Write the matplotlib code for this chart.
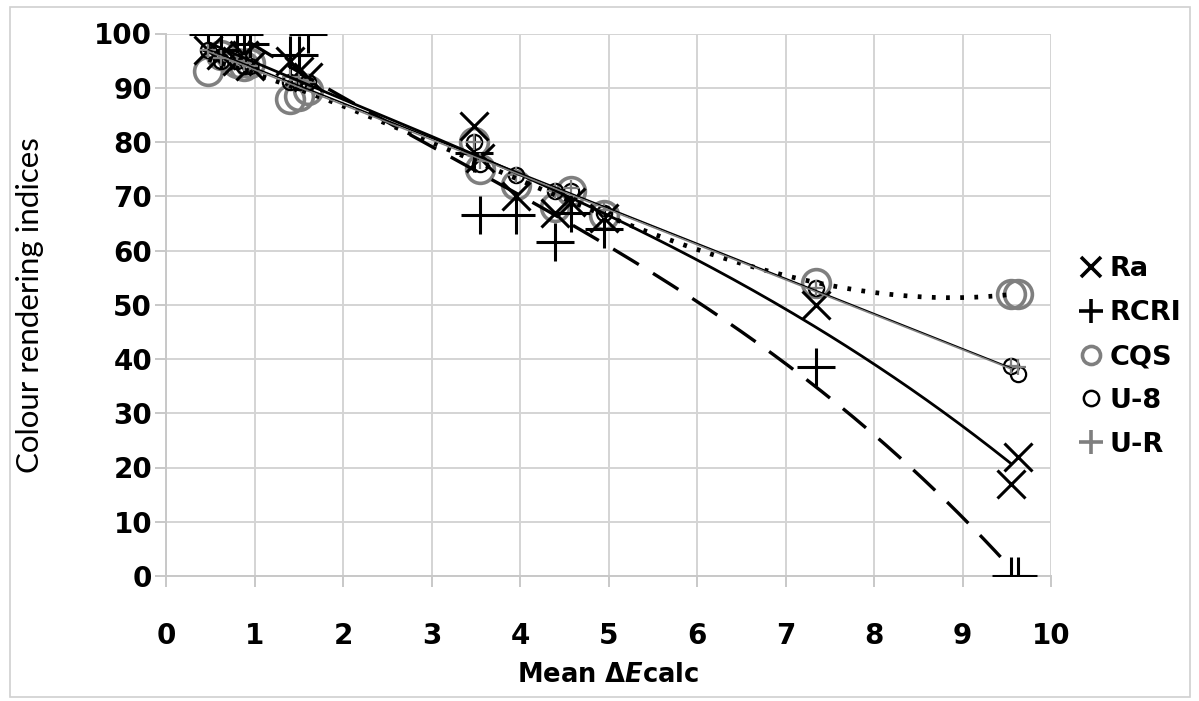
import numpy as np
import matplotlib.pyplot as plt
from matplotlib.lines import Line2D
from matplotlib.patches import Rectangle

plt.rcParams['font.family'] = ['DejaVu Sans']
plt.rcParams['mathtext.fontset'] = 'custom'
plt.rcParams['mathtext.it'] = 'DejaVu Sans:italic:bold'
plt.rcParams['mathtext.rm'] = 'DejaVu Sans:bold'

# mean colour difference of each light source
delta_e = [0.48, 0.62, 0.80, 0.88, 0.95, 1.40, 1.50, 1.60,
           3.48, 3.55, 3.95, 4.40, 4.58, 4.95, 7.35, 9.55, 9.63]

ra   = [97, 96, 95, 96, 94, 95, 93, 92, 83, 77, 70, 67, 69, 66, 50, 17, 22]
rcri = [100, 97, 100, 100, 98, 96, 96, 100, 78, 66.5, 66.5, 61.5, 67, 64, 38.5, 0, 0]
cqs  = [93, 96, 94.5, 94, 94.5, 88, 88.5, 89.5, 80, 75, 72, 68, 71, 66.5, 54, 52, 52]
u8   = [97, 95, 95, 94, 94, 91, 91, 91, 80, 76, 74, 71, 71, 67, 53, 38.8, 37.3]
ur   = [97, 95.5, 95, 94.5, 94, 92, 91.5, 91, 80, 76.5, 74, 71, 71.5, 67.5, 53, 38.8, 38.5]

x_ticks = list(range(0, 11))
y_ticks = list(range(0, 101, 10))

fig = plt.figure(figsize=(11.99, 7.01), dpi=100)
ax = fig.add_axes([166 / 1199, 1 - 576 / 701, (1051 - 166) / 1199, (576 - 33.5) / 701])

grey = '#7f7f7f'

# scatter points
ax.plot(delta_e, cqs, 'o', ms=20, mfc='none', mec=grey, mew=2.6, zorder=3)
ax.plot(delta_e, ra, 'x', ms=20, color='black', mew=2.2, zorder=4)
ax.plot(delta_e, rcri, '+', ms=27, color='black', mew=2.2, zorder=4)
ax.plot(delta_e, u8, 'o', ms=11, mfc='none', mec='black', mew=1.6, zorder=5)
ax.plot(delta_e, ur, '+', ms=11, color=grey, mew=1.6, zorder=5)

# trend lines
xs = np.linspace(min(delta_e), max(delta_e) - 0.08, 200)
ax.plot(xs, np.polyval(np.polyfit(delta_e, ra, 3), xs), color='black', lw=2, zorder=6)
ax.plot(xs, np.polyval(np.polyfit(delta_e, rcri, 3), xs), color='black', lw=2.4,
        ls=(0, (9, 5)), zorder=6)
ax.plot(xs, np.polyval(np.polyfit(delta_e, cqs, 3), xs), color='black', lw=3.4,
        ls=(0, (0.8, 2.2)), zorder=6)
ax.plot(xs, np.polyval(np.polyfit(delta_e, u8, 1), xs), color='black', lw=1.1, zorder=6)
ax.plot(xs, np.polyval(np.polyfit(delta_e, ur, 1), xs) - 0.6, color=grey, lw=1.1, zorder=6)

ax.set_xlim(0, 10)
ax.set_ylim(0, 100)
ax.set_xticks(x_ticks)
ax.set_yticks(y_ticks)
ax.grid(True, color='#d4d4d4', lw=1.4)
ax.set_axisbelow(True)
for side in ['top', 'right']:
    ax.spines[side].set_visible(False)
for side in ['left', 'bottom']:
    ax.spines[side].set_color('#c8c8c8')
    ax.spines[side].set_linewidth(1.4)
ax.tick_params(length=8, width=1.4, color='#c8c8c8', labelsize=20)
ax.tick_params(axis='x', pad=25)
ax.tick_params(axis='y', pad=2)
for lab in ax.get_xticklabels() + ax.get_yticklabels():
    lab.set_fontweight('bold')

ax.set_ylabel('Colour rendering indices', fontsize=22.5, family='Lato', va='center')
ax.yaxis.set_label_coords(-0.154, 0.5)
ax.set_xlabel(r'Mean Δ$\mathit{E}$calc', fontsize=18.5, fontweight='bold', va='center')
ax.xaxis.set_label_coords(0.5, -0.182)

handles = [
    Line2D([], [], ls='none', marker='x', ms=14, color='black', mew=2.6),
    Line2D([], [], ls='none', marker='+', ms=17, color='black', mew=2.6),
    Line2D([], [], ls='none', marker='o', ms=13, mfc='none', mec=grey, mew=2.6),
    Line2D([], [], ls='none', marker='o', ms=11, mfc='none', mec='black', mew=1.8),
    Line2D([], [], ls='none', marker='+', ms=17, color=grey, mew=2.6),
]
fig.legend(handles, ['Ra', 'RCRI', 'CQS', 'U-8', 'U-R'], loc='center left',
           bbox_to_anchor=(1080 / 1199, 1 - 357 / 701), frameon=False,
           prop={'size': 19.5, 'weight': 'bold'}, handlelength=0.8,
           handletextpad=0.3, labelspacing=0.66, borderaxespad=0, borderpad=0)

# thin frame round the chart area
fig.patches.append(Rectangle((10 / 1199, 4 / 701), 1180 / 1199, 690 / 701,
                             transform=fig.transFigure, fill=False,
                             ec='#d0d0d0', lw=1.2))

fig.savefig('out.png', dpi=100)
